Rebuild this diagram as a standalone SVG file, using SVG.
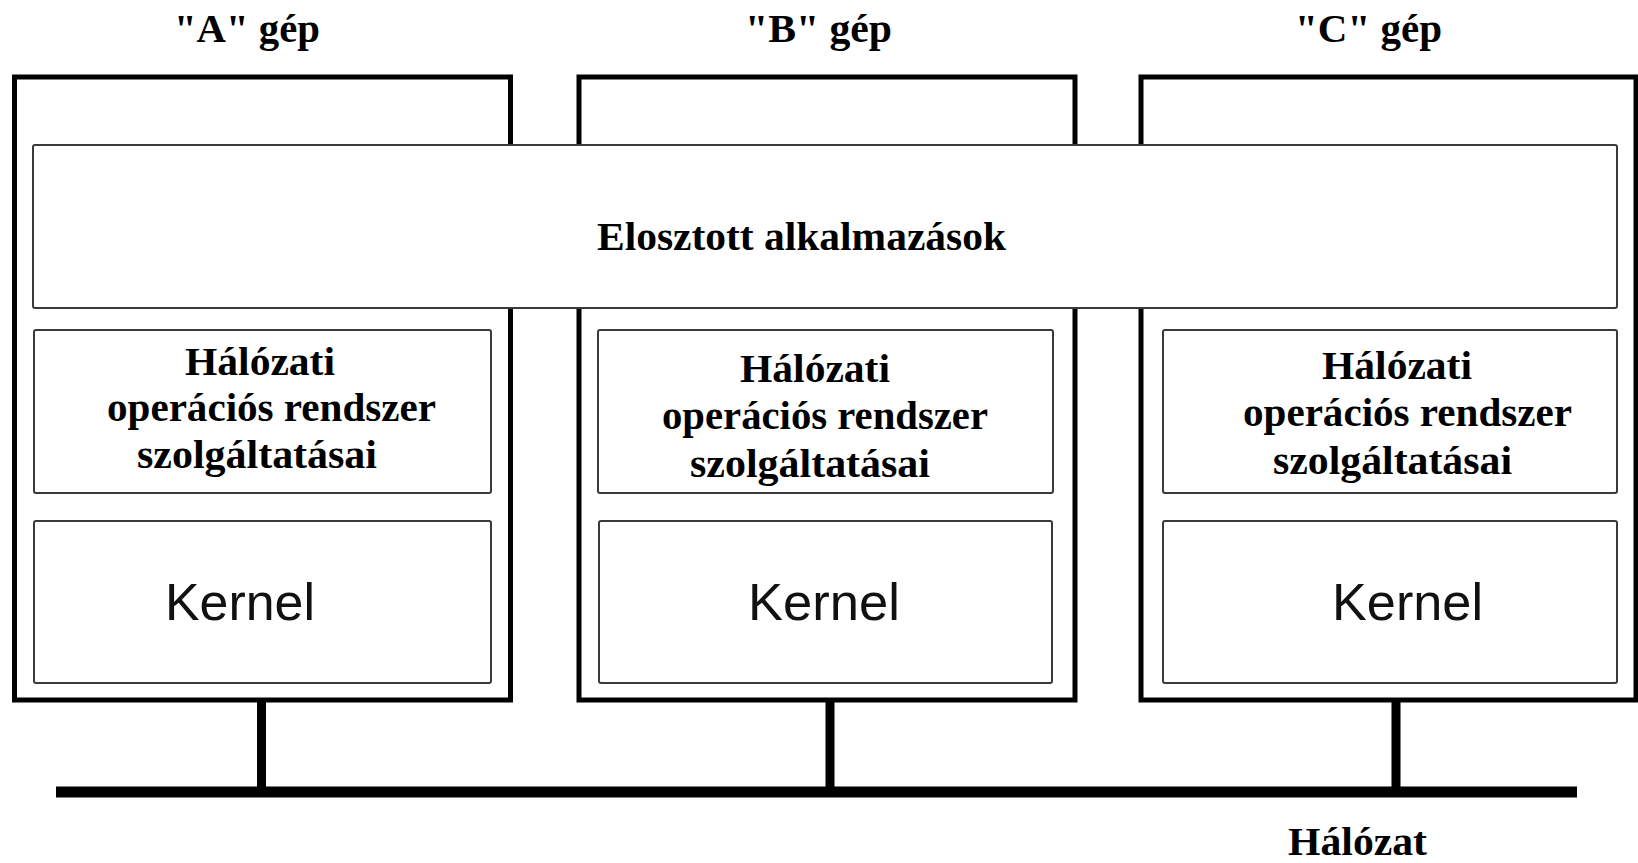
<svg xmlns="http://www.w3.org/2000/svg" width="1638" height="863" viewBox="0 0 1638 863">
  <style>
    .machine { fill: #ffffff; stroke: #000000; stroke-width: 5; }
    .layer { fill: #ffffff; stroke: #3a3a3a; stroke-width: 2; }
    .serif { font-family: "Liberation Serif", "Times New Roman", serif; font-weight: bold; font-size: 40px; fill: #000000; }
    .sans { font-family: "Liberation Sans", Arial, sans-serif; font-size: 52px; fill: #111111; }
    .link { stroke: #000000; stroke-width: 9; fill: none; }
    .bus { stroke: #000000; stroke-width: 11; fill: none; }
  </style>

  <rect width="1638" height="863" fill="#ffffff"/>

  <!-- machine frames -->
  <g id="machine-a">
    <rect class="machine" x="14.5" y="77" width="496" height="623"/>
    <text class="serif" x="174" y="42" textLength="146" lengthAdjust="spacingAndGlyphs">"A" gép</text>
  </g>
  <g id="machine-b">
    <rect class="machine" x="579" y="77" width="496" height="623"/>
    <text class="serif" x="745" y="42" textLength="147" lengthAdjust="spacingAndGlyphs">"B" gép</text>
  </g>
  <g id="machine-c">
    <rect class="machine" x="1141" y="77" width="495" height="623"/>
    <text class="serif" x="1295" y="42" textLength="147" lengthAdjust="spacingAndGlyphs">"C" gép</text>
  </g>

  <!-- shared application layer spanning all machines -->
  <g id="distributed-apps">
    <rect class="layer" x="33" y="145" width="1584" height="163" rx="2"/>
    <text class="serif" x="597" y="250" textLength="409" lengthAdjust="spacingAndGlyphs">Elosztott alkalmazások</text>
  </g>

  <!-- network OS service layers -->
  <g id="nos-a">
    <rect class="layer" x="34" y="330" width="457" height="163" rx="2"/>
    <text class="serif" x="185" y="375" textLength="150" lengthAdjust="spacingAndGlyphs">Hálózati</text>
    <text class="serif" x="107" y="421" textLength="329" lengthAdjust="spacingAndGlyphs">operációs rendszer</text>
    <text class="serif" x="137" y="468" textLength="240" lengthAdjust="spacingAndGlyphs">szolgáltatásai</text>
  </g>
  <g id="nos-b">
    <rect class="layer" x="598" y="330" width="455" height="163" rx="2"/>
    <text class="serif" x="740" y="382" textLength="150" lengthAdjust="spacingAndGlyphs">Hálózati</text>
    <text class="serif" x="662" y="429" textLength="326" lengthAdjust="spacingAndGlyphs">operációs rendszer</text>
    <text class="serif" x="690" y="477" textLength="240" lengthAdjust="spacingAndGlyphs">szolgáltatásai</text>
  </g>
  <g id="nos-c">
    <rect class="layer" x="1163" y="330" width="454" height="163" rx="2"/>
    <text class="serif" x="1322" y="379" textLength="150" lengthAdjust="spacingAndGlyphs">Hálózati</text>
    <text class="serif" x="1243" y="426" textLength="329" lengthAdjust="spacingAndGlyphs">operációs rendszer</text>
    <text class="serif" x="1273" y="474" textLength="239" lengthAdjust="spacingAndGlyphs">szolgáltatásai</text>
  </g>

  <!-- kernels -->
  <g id="kernel-a">
    <rect class="layer" x="34" y="521" width="457" height="162" rx="2"/>
    <text class="sans" x="165" y="620" textLength="150" lengthAdjust="spacingAndGlyphs">Kernel</text>
  </g>
  <g id="kernel-b">
    <rect class="layer" x="599" y="521" width="453" height="162" rx="2"/>
    <text class="sans" x="748" y="620" textLength="152" lengthAdjust="spacingAndGlyphs">Kernel</text>
  </g>
  <g id="kernel-c">
    <rect class="layer" x="1163" y="521" width="454" height="162" rx="2"/>
    <text class="sans" x="1332" y="620" textLength="151" lengthAdjust="spacingAndGlyphs">Kernel</text>
  </g>

  <!-- network bus and drops -->
  <g id="connectors">
    <line class="link" x1="261.5" y1="702" x2="261.5" y2="790"/>
    <line class="link" x1="830" y1="702" x2="830" y2="790"/>
    <line class="link" x1="1396" y1="702" x2="1396" y2="790"/>
    <line class="bus" x1="56" y1="792" x2="1577" y2="792"/>
  </g>

  <g id="network-label">
    <text class="serif" x="1288" y="855" textLength="139" lengthAdjust="spacingAndGlyphs">Hálózat</text>
  </g>
</svg>
